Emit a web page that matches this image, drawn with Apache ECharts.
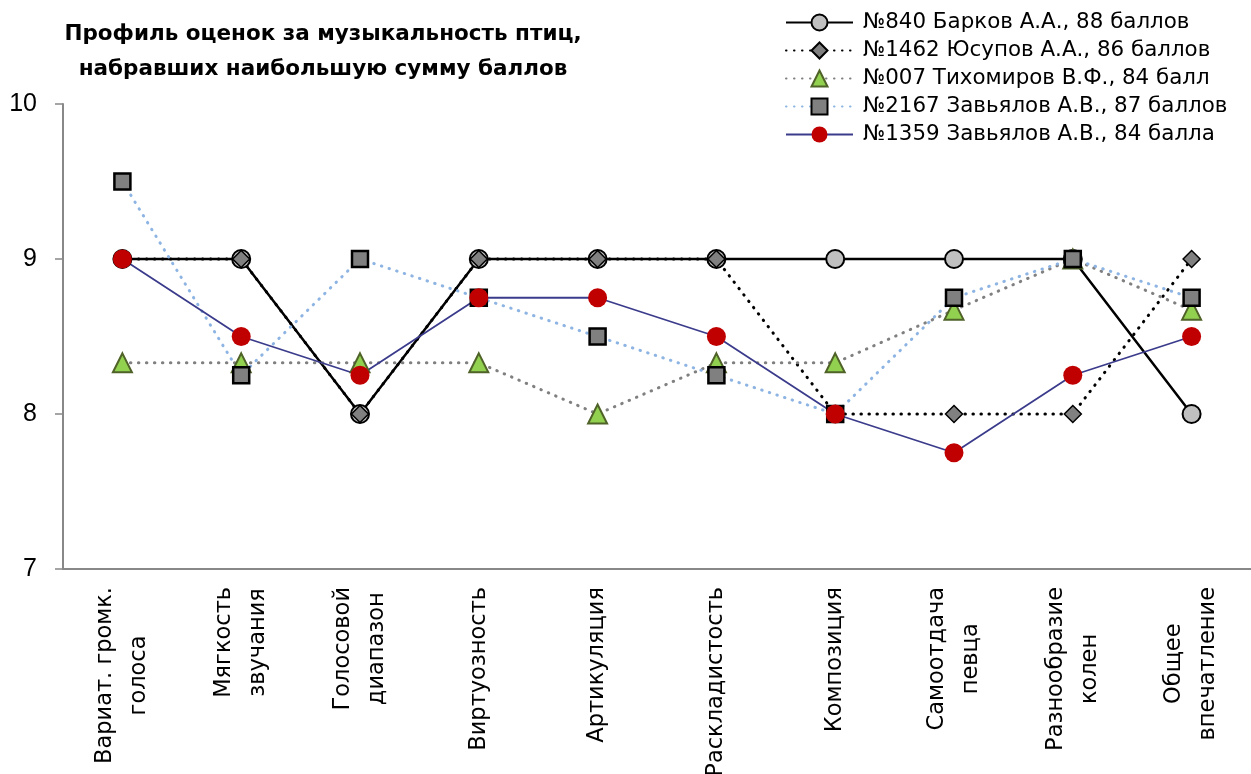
<!DOCTYPE html>
<html>
<head>
<meta charset="utf-8">
<script src="https://cdn.jsdelivr.net/npm/echarts@6/dist/echarts.min.js"></script>
<style>
  html, body { margin: 0; padding: 0; background: #fff; }
  #main { width: 1251px; height: 774px; }
</style>
</head>
<body>
<div id="main"></div>
<script>
// категории (подписи оси X)
var categories = [
  "Вариат. громк.\nголоса",
  "Мягкость\nзвучания",
  "Голосовой\nдиапазон",
  "Виртуозность",
  "Артикуляция",
  "Раскладистость",
  "Композиция",
  "Самоотдача\nпевца",
  "Разнообразие\nколен",
  "Общее\nвпечатление"
];
var seriesNames = [
  "№840 Барков А.А., 88 баллов",
  "№1462 Юсупов А.А., 86 баллов",
  "№007 Тихомиров В.Ф., 84 балл",
  "№2167 Завьялов А.В., 87 баллов",
  "№1359 Завьялов А.В., 84 балла"
];
var barkov = [9, 9, 8, 9, 9, 9, 9, 9, 9, 8];
var yusupov = [9, 9, 8, 9, 9, 9, 8, 8, 8, 9];
var tikhomirov = [8.33, 8.33, 8.33, 8.33, 8, 8.33, 8.33, 8.67, 9, 8.67];
var zavyalov2167 = [9.5, 8.25, 9, 8.75, 8.5, 8.25, 8, 8.75, 9, 8.75];
var zavyalov1359 = [9, 8.5, 8.25, 8.75, 8.75, 8.5, 8, 7.75, 8.25, 8.5];
var yTicks = [7, 8, 9, 10];

var myChart = echarts.init(document.getElementById("main"));

var dots = [0.5, 7.5];

var option = {
  animation: false,
  title: {
    text: "Профиль оценок за музыкальность птиц,\nнабравших наибольшую сумму баллов",
    left: 323,
    top: 17,
    padding: 0,
    textAlign: "center",
    textStyle: {
      fontFamily: "DejaVu Sans",
      fontWeight: "bold",
      fontSize: 21.5,
      lineHeight: 35,
      color: "#000"
    }
  },
  legend: {
    orient: "vertical",
    left: 785,
    top: 12,
    padding: 0,
    itemWidth: 67,
    itemHeight: 20,
    itemGap: 7,
    textStyle: {
      fontFamily: "DejaVu Sans",
      fontSize: 21.4,
      lineHeight: 21,
      padding: [0, 0, 0, 5],
      color: "#000"
    },
    data: seriesNames
  },
  grid: {
    left: 63,
    right: 0,
    top: 104,
    bottom: 205,
    containLabel: false,
    outerBoundsMode: "none"
  },
  xAxis: {
    type: "category",
    boundaryGap: true,
    data: categories,
    axisLine: { lineStyle: { color: "#888", width: 2 } },
    axisTick: { inside: true, length: 7, lineStyle: { color: "#888", width: 1.5 } },
    axisLabel: {
      rotate: 90,
      margin: 18,
      interval: 0,
      fontFamily: "DejaVu Sans",
      fontSize: 22.5,
      lineHeight: 34,
      color: "#000",
      formatter: function (v) {
        return v.split("\n").map(function (s) { return "{c|" + s + "}"; }).join("\n");
      },
      rich: {
        c: {
          align: "center",
          fontFamily: "DejaVu Sans",
          fontSize: 22.5,
          lineHeight: 34,
          color: "#000"
        }
      }
    }
  },
  yAxis: {
    type: "value",
    min: yTicks[0],
    max: yTicks[yTicks.length - 1],
    interval: 1,
    splitLine: { show: false },
    axisLine: { show: true, lineStyle: { color: "#888", width: 2 } },
    axisTick: { show: true, length: 8, lineStyle: { color: "#888", width: 1.5 } },
    axisLabel: {
      margin: 26,
      fontFamily: "Liberation Sans",
      fontSize: 25,
      color: "#000"
    }
  },
  series: [
    {
      name: seriesNames[0],
      type: "line",
      data: barkov,
      symbol: "circle",
      symbolSize: 18,
      lineStyle: { color: "#000", width: 2.5 },
      itemStyle: { color: "#c0c0c0", borderColor: "#000", borderWidth: 2 }
    },
    {
      name: seriesNames[1],
      type: "line",
      data: yusupov,
      symbol: "diamond",
      symbolSize: 17,
      lineStyle: { color: "#000", width: 3, type: dots, cap: "round" },
      itemStyle: { color: "#808080", borderColor: "#000", borderWidth: 1.5 }
    },
    {
      name: seriesNames[2],
      type: "line",
      data: tikhomirov,
      symbol: "triangle",
      symbolSize: 19,
      lineStyle: { color: "#808080", width: 3, type: dots, cap: "round" },
      itemStyle: { color: "#92d050", borderColor: "#4f6228", borderWidth: 2 }
    },
    {
      name: seriesNames[3],
      type: "line",
      data: zavyalov2167,
      symbol: "rect",
      symbolSize: 16,
      lineStyle: { color: "#8db4e2", width: 3, type: dots, cap: "round" },
      itemStyle: { color: "#808080", borderColor: "#000", borderWidth: 2.5 }
    },
    {
      name: seriesNames[4],
      type: "line",
      data: zavyalov1359,
      symbol: "circle",
      symbolSize: 19,
      lineStyle: { color: "#3b3b8c", width: 1.8 },
      itemStyle: { color: "#c00000", borderColor: "#c00000", borderWidth: 0 }
    }
  ]
};

myChart.setOption(option);
</script>
</body>
</html>
